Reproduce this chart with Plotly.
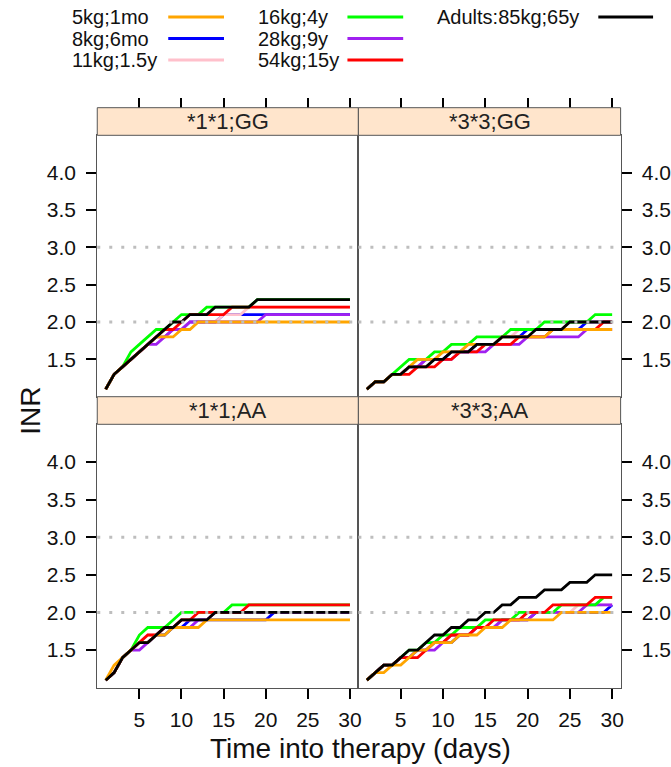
import plotly.graph_objects as go

days = list(range(1, 31))

series_names = ["5kg;1mo", "8kg;6mo", "11kg;1.5y", "16kg;4y", "28kg;9y", "54kg;15y", "Adults:85kg;65y"]
series_colors = ["#FFA500", "#0000FF", "#FFC0CB", "#00FF00", "#A020F0", "#FF0000", "#000000"]
panel_titles = ["*1*1;GG", "*3*3;GG", "*1*1;AA", "*3*3;AA"]
x_ticks = [5, 10, 15, 20, 25, 30]
y_ticks = [1.5, 2.0, 2.5, 3.0, 3.5, 4.0]
ref_levels = [2.0, 3.0]

# *1*1;GG (top-left)
tl_orange = [1.1,1.3,1.4,1.5,1.6,1.7,1.8,1.8,1.8,1.9,1.9] + [2.0]*19
tl_blue = [1.1,1.3,1.4,1.5,1.6,1.7,1.8,1.8,1.9,1.9,2.0,2.0,2.0,2.0] + [2.1]*16
tl_pink = [1.1,1.3,1.4,1.5,1.6,1.7,1.8,1.8,1.9,1.9,2.0,2.0,2.0,2.0,2.1,2.1,2.1] + [2.2]*13
tl_green = [1.1,1.3,1.4,1.6,1.7,1.8,1.9,1.9,2.0,2.1,2.1,2.1,2.2,2.2,2.2,2.2,2.2,2.2] + [2.3]*12
tl_purple = [1.1,1.3,1.4,1.5,1.6,1.7,1.7,1.8,1.9,1.9] + [2.0]*9 + [2.1]*11
tl_red = [1.1,1.3,1.4,1.5,1.6,1.7,1.8,1.9,1.9,2.0,2.1,2.1,2.1,2.1,2.1] + [2.2]*15
tl_black = [1.1,1.3,1.4,1.5,1.6,1.7,1.8,1.9,2.0,2.0,2.1,2.1,2.1,2.2,2.2,2.2,2.2,2.2] + [2.3]*12

# *3*3;GG (top-right)
tr_orange = [1.1,1.2,1.2,1.3,1.3,1.4,1.5,1.5,1.5,1.6,1.6,1.6,1.7,1.7,1.7,1.7,1.8,1.8,1.8,1.8,1.8,1.8] + [1.9]*8
tr_blue = [1.1,1.2,1.2,1.3,1.3,1.4,1.4,1.5,1.5,1.5,1.6,1.6,1.6,1.7,1.7,1.7,1.8,1.8,1.8] + [1.9]*7 + [2.0]*4
tr_pink = [1.1,1.2,1.2,1.3,1.3,1.4,1.4,1.5,1.5,1.6,1.6,1.6,1.7,1.7,1.7,1.7,1.8,1.8] + [1.9]*6 + [2.0]*6
tr_green = [1.1,1.2,1.2,1.3,1.4,1.5,1.5,1.5,1.6,1.6,1.7,1.7,1.7,1.8,1.8,1.8,1.8,1.9,1.9,1.9,1.9] + [2.0]*6 + [2.1]*3
tr_purple = [1.1,1.2,1.2,1.3,1.3,1.4,1.4,1.5,1.5,1.5,1.5,1.6,1.6,1.6,1.6,1.7,1.7,1.7,1.7] + [1.8]*7 + [1.9]*4
tr_red = [1.1,1.2,1.2,1.3,1.3,1.3,1.4,1.4,1.4,1.5,1.5,1.6,1.6,1.6,1.7,1.7,1.7,1.7,1.8,1.8,1.8,1.8] + [1.9]*6 + [2.0]*2
tr_black = [1.1,1.2,1.2,1.3,1.3,1.4,1.4,1.4,1.5,1.5,1.6,1.6,1.6,1.7,1.7,1.7,1.8,1.8,1.8,1.8,1.9,1.9,1.9,1.9] + [2.0]*6

# *1*1;AA (bottom-left)
bl_orange = [1.1,1.3,1.4,1.5,1.6,1.6,1.7,1.7,1.8,1.8,1.8,1.8] + [1.9]*18
bl_blue = [1.1,1.2,1.4,1.5,1.6,1.6,1.7,1.7,1.8,1.8] + [1.9]*10 + [2.0]*10
bl_pink = [1.1,1.2,1.4,1.5,1.6,1.7,1.7,1.8,1.8,1.9,1.9,1.9,1.9] + [2.0]*17
bl_green = [1.1,1.2,1.4,1.5,1.7,1.8,1.8,1.8,1.9] + [2.0]*6 + [2.1]*15
bl_purple = [1.1,1.2,1.4,1.5,1.5,1.6,1.7,1.8,1.8,1.8,1.8,1.9,1.9] + [2.0]*17
bl_red = [1.1,1.2,1.4,1.5,1.6,1.7,1.7,1.8,1.8,1.9,1.9] + [2.0]*6 + [2.1]*13
bl_black = [1.1,1.2,1.4,1.5,1.6,1.6,1.7,1.8,1.8,1.9,1.9,1.9,1.9] + [2.0]*17

# *3*3;AA (bottom-right)
br_orange = [1.1,1.2,1.2,1.3,1.3,1.4,1.5,1.5,1.6,1.6,1.6,1.7,1.7,1.7,1.8,1.8,1.8] + [1.9]*6 + [2.0]*7
br_blue = [1.1,1.2,1.3,1.3,1.4,1.4,1.5,1.5,1.6,1.6,1.6,1.7,1.7,1.8,1.8,1.8,1.9,1.9,1.9,1.9] + [2.0]*9 + [2.1]
br_pink = [1.1,1.2,1.3,1.3,1.4,1.4,1.5,1.5,1.6,1.6,1.7,1.7,1.7,1.8,1.8,1.8,1.9,1.9,1.9] + [2.0]*6 + [2.1]*5
br_green = [1.1,1.2,1.3,1.3,1.4,1.5,1.5,1.6,1.6,1.7,1.7,1.8,1.8,1.8,1.9,1.9,1.9,1.9] + [2.0]*5 + [2.1]*5 + [2.2]*2
br_purple = [1.1,1.2,1.3,1.3,1.4,1.4,1.5,1.5,1.5,1.6,1.7,1.7,1.7,1.8,1.8,1.8,1.9,1.9,1.9,1.9] + [2.0]*6 + [2.1]*4
br_red = [1.1,1.2,1.3,1.3,1.4,1.4,1.4,1.5,1.6,1.6,1.7,1.7,1.7,1.8,1.8,1.9,1.9,1.9,1.9] + [2.0]*3 + [2.1]*5 + [2.2]*3
br_black = [1.1,1.2,1.3,1.3,1.4,1.5,1.5,1.6,1.7,1.7,1.8,1.8,1.9,1.9,2.0,2.0,2.1,2.1,2.2,2.2,2.2,2.3,2.3,2.3,2.4,2.4,2.4,2.5,2.5,2.5]

# panel -> series values in legend order (orange, blue, pink, green, purple, red, black)
panel_values = {
    "*1*1;GG": [tl_orange, tl_blue, tl_pink, tl_green, tl_purple, tl_red, tl_black],
    "*3*3;GG": [tr_orange, tr_blue, tr_pink, tr_green, tr_purple, tr_red, tr_black],
    "*1*1;AA": [bl_orange, bl_blue, bl_pink, bl_green, bl_purple, bl_red, bl_black],
    "*3*3;AA": [br_orange, br_blue, br_pink, br_green, br_purple, br_red, br_black],
}

# ---------------- layout geometry ----------------
W, H = 671, 767
FONT = "Liberation Sans, Arial, sans-serif"

def py(pix):
    return 1 - pix / H

def px(pix):
    return pix / W

xL = [px(97.7), px(360.0)]
xR = [px(360.0), px(623.4)]
yT = [py(396.7), py(135.3)]
yB = [py(687.7), py(424.3)]
stripT = [py(135.3), py(107.7)]
stripB = [py(424.3), py(396.7)]

panel_axes = {
    "*1*1;GG": ("x3", "y3"),
    "*3*3;GG": ("x4", "y4"),
    "*1*1;AA": ("x", "y"),
    "*3*3;AA": ("x2", "y2"),
}

draw_order = [1, 2, 4, 3, 5, 0, 6]  # blue, pink, purple, green, red, orange, black

fig = go.Figure()
for title in panel_titles:
    xa, ya = panel_axes[title]
    vals = panel_values[title]
    for i in draw_order:
        fig.add_trace(go.Scatter(
            x=days, y=vals[i], mode="lines", xaxis=xa, yaxis=ya,
            line=dict(color=series_colors[i], width=2.8),
            name=series_names[i], showlegend=False, hoverinfo="skip"))

# invisible traces to carry the top tick axes
fig.add_trace(go.Scatter(x=[None], y=[None], xaxis="x5", yaxis="y3", showlegend=False, hoverinfo="skip"))
fig.add_trace(go.Scatter(x=[None], y=[None], xaxis="x6", yaxis="y4", showlegend=False, hoverinfo="skip"))

tickfont = dict(family=FONT, size=21, color="#111111")
LINEC = "#555555"
xcommon = dict(range=[0, 31], tickvals=x_ticks, showgrid=False, zeroline=False,
               showline=True, linecolor=LINEC, linewidth=1, mirror=True,
               ticks="outside", ticklen=10, tickwidth=2, tickcolor="black", tickfont=tickfont,
               ticklabelstandoff=3)
ycommon = dict(range=[1.0, 4.5], tickvals=y_ticks, tickformat=".1f", showgrid=False, zeroline=False,
               showline=True, linecolor=LINEC, linewidth=1, mirror=True,
               ticks="outside", ticklen=10, tickwidth=2, tickcolor="black", tickfont=tickfont,
               ticklabelstandoff=6)

fig.update_layout(
    width=W, height=H, margin=dict(l=0, r=0, t=0, b=0),
    paper_bgcolor="white", plot_bgcolor="white", showlegend=False,
    xaxis=dict(xcommon, domain=xL, anchor="y"),
    xaxis2=dict(xcommon, domain=xR, anchor="y2"),
    xaxis3=dict(xcommon, domain=xL, anchor="y3", ticks="", showticklabels=False),
    xaxis4=dict(xcommon, domain=xR, anchor="y4", ticks="", showticklabels=False),
    xaxis5=dict(range=[0, 31], tickvals=x_ticks, overlaying="x3", anchor="free", position=stripT[1],
                side="top", showline=False, showgrid=False, zeroline=False, showticklabels=False,
                ticks="outside", ticklen=10, tickwidth=2, tickcolor="black"),
    xaxis6=dict(range=[0, 31], tickvals=x_ticks, overlaying="x4", anchor="free", position=stripT[1],
                side="top", showline=False, showgrid=False, zeroline=False, showticklabels=False,
                ticks="outside", ticklen=10, tickwidth=2, tickcolor="black"),
    yaxis=dict(ycommon, domain=yB, anchor="x", side="left"),
    yaxis2=dict(ycommon, domain=yB, anchor="x2", side="right"),
    yaxis3=dict(ycommon, domain=yT, anchor="x3", side="left"),
    yaxis4=dict(ycommon, domain=yT, anchor="x4", side="right"),
)

shapes = []
annotations = []

# reference dotted lines (drawn above the curves)
for title in panel_titles:
    xa, ya = panel_axes[title]
    for lev in ref_levels:
        shapes.append(dict(type="line", xref=f"{xa} domain", yref=ya, x0=0, x1=1, y0=lev, y1=lev,
                           line=dict(color="#BEBEBE", width=3, dash="3px,9px"), layer="above"))

# strips
strip_pos = {
    "*1*1;GG": (xL, stripT), "*3*3;GG": (xR, stripT),
    "*1*1;AA": (xL, stripB), "*3*3;AA": (xR, stripB),
}
for title in panel_titles:
    (sx0, sx1), (sy0, sy1) = strip_pos[title]
    shapes.append(dict(type="rect", xref="paper", yref="paper", x0=sx0, x1=sx1, y0=sy0, y1=sy1,
                       fillcolor="#FFE5CC", line=dict(color=LINEC, width=1), layer="above"))
    annotations.append(dict(text=title, xref="paper", yref="paper", x=(sx0 + sx1) / 2, y=(sy0 + sy1) / 2,
                            showarrow=False, xanchor="center", yanchor="middle",
                            font=dict(family=FONT, size=22, color="#222222")))

# legend (key at top)
key_text_x = [70, 70, 70, 257, 257, 257, 437]
key_line_x = [(169, 225), (169, 225), (169, 225), (349, 405), (349, 405), (349, 405), (601, 656)]
key_row_y = [17, 38.5, 60, 17, 38.5, 60, 17]
for i, name in enumerate(series_names):
    annotations.append(dict(text=name, xref="paper", yref="paper", x=px(key_text_x[i]), y=py(key_row_y[i]),
                            showarrow=False, xanchor="left", yanchor="middle",
                            font=dict(family=FONT, size=20, color="#111111")))
    shapes.append(dict(type="line", xref="paper", yref="paper",
                       x0=px(key_line_x[i][0]), x1=px(key_line_x[i][1]),
                       y0=py(key_row_y[i]), y1=py(key_row_y[i]),
                       line=dict(color=series_colors[i], width=3)))

# axis titles
annotations.append(dict(text="INR", xref="paper", yref="paper", x=px(30), y=py(411), textangle=-90,
                        showarrow=False, xanchor="center", yanchor="middle",
                        font=dict(family=FONT, size=28, color="#111111")))
annotations.append(dict(text="Time into therapy (days)", xref="paper", yref="paper", x=px(362), y=py(748),
                        showarrow=False, xanchor="center", yanchor="middle",
                        font=dict(family=FONT, size=28, color="#111111")))

fig.update_layout(shapes=shapes, annotations=annotations)
fig.write_html("out.html")
